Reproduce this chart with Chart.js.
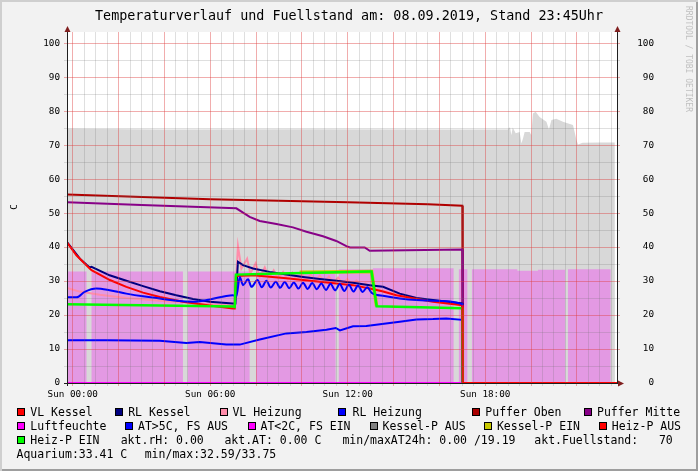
<!DOCTYPE html>
<html>
<head>
<meta charset="utf-8">
<script src="https://cdn.jsdelivr.net/npm/chart.js@4.4.1/dist/chart.umd.min.js"></script>
<style>
  body { margin: 0; }
  #wrap { position: relative; width: 698px; height: 471px; background: #f2f2f2; box-shadow: inset 2px 2px 0 #cfcfcf, inset -2px -2px 0 #9e9e9e; font-family: 'DejaVu Sans Mono', monospace; color: #000; overflow: hidden; }
  #chart { position: absolute; left: 0; top: 0; }
  #title { position: absolute; left: 0; top: 8px; width: 698px; text-align: center; font-size: 13.4px; line-height: 16px; white-space: pre; }
  #unit { position: absolute; left: 9px; top: 202px; width: 10px; height: 10px; line-height: 10px; text-align: center; font-size: 9.3px; transform: rotate(-90deg); }
  #mark { position: absolute; left: 684px; top: 6px; writing-mode: vertical-rl; font-size: 8px; color: #c0c0c0; white-space: pre; }
  .txt { position: absolute; white-space: pre; font-size: 11.5px; line-height: 14px; }
  .box { position: absolute; width: 6px; height: 6px; border: 1px solid #000; }
</style>
</head>
<body>
<div id="wrap">
  <canvas id="chart" width="698" height="471"></canvas>
  <div id="title">Temperaturverlauf und Fuellstand am: 08.09.2019, Stand 23:45Uhr</div>
  <div id="unit">C</div>
  <div id="mark">RRDTOOL / TOBI OETIKER</div>
  <div id="legend"></div>
</div>
<script>
// time axis in hours of Sunday 08.09.2019, values in C (Fuellstand in %)
const xLabelHours = [0, 6, 12, 18];
const xLabels = ['Sun 00:00', 'Sun 06:00', 'Sun 12:00', 'Sun 18:00'];

const fuellstand = [[-0.25,74.8],[4,74.6],[10,74.7],[16,74.6],[18.98,74.6],[19.08,75.3],[19.14,72.9],[19.2,75.2],[19.33,73.5],[19.5,73.9],[19.58,70.5],[19.65,72.0],[19.72,73.9],[19.94,73.9],[20.01,72.9],[20.08,79.3],[20.2,79.8],[20.37,78.3],[20.67,76.9],[20.78,74.6],[20.89,77.4],[21.1,77.8],[21.39,76.9],[21.83,75.9],[21.98,71.5],[22.05,70.2],[22.25,70.7],[23.0,70.8],[23.65,70.8],[23.66,0]];

// each value holds until the next time
const aquarium = [[-0.25,32.8],[0.6,0],[0.82,32.8],[4.81,0],[5.02,32.8],[7.72,0],[8.0,32.7],[11.47,0],[11.61,33.5],[13.1,33.8],[16.62,0],[16.85,33.5],[17.22,0],[17.42,33.5],[19.4,33.0],[20.3,33.3],[21.49,0],[21.61,33.5],[23.47,0],[23.75,0]];

const luftfeuchte = [[-0.25,0],[23.75,0]];

const aussen = [[-0.25,12.6],[1.5,12.6],[3.8,12.4],[4.96,11.8],[5.54,12.1],[6.7,11.3],[7.29,11.3],[8.16,12.8],[9.32,14.6],[10.2,15.0],[11.07,15.7],[11.48,16.2],[11.66,15.5],[12.23,16.7],[12.81,16.8],[14.27,18.0],[15.0,18.7],[15.72,18.8],[16.3,19.0],[17.0,18.6],[17.02,0]];

const pufferOben = [[-0.25,55.5],[6,54.1],[12,53.2],[15.5,52.6],[17.0,52.2],[17.02,0]];

const pufferMitte = [[-0.25,53.2],[3,52.4],[7.14,51.4],[7.72,48.9],[8.16,47.7],[8.89,46.8],[9.61,45.8],[10.2,44.5],[10.92,43.2],[11.5,41.8],[11.94,40.3],[12.1,39.9],[12.74,39.9],[12.96,38.9],[14.56,39.1],[17.0,39.3],[17.02,0]];

const vlHeizung = [[-0.25,28.0],[0.3,26.9],[1.18,26.0],[2.34,25.0],[3.8,24.2],[5.5,23.4],[7.05,22.7],[7.15,33.0],[7.21,40.3],[7.36,33.7],[7.61,36.6],[7.75,32.2],[7.98,35.2],[8.16,31.2],[8.38,34.0],[8.56,30.8],[8.77,33.2],[8.96,30.8],[9.18,32.7],[9.38,30.5],[9.58,32.5],[9.78,30.4],[9.98,32.3],[10.18,30.2],[10.38,32.0],[10.58,30.0],[10.78,31.6],[10.98,29.8],[11.18,31.3],[11.38,29.5],[11.58,31.0],[11.78,29.3],[11.98,30.6],[12.18,29.0],[12.38,30.2],[12.58,28.7],[12.78,29.4],[13.0,28.0],[13.5,27.2],[14.2,26.0],[15.0,25.0],[15.7,24.2],[17.0,23.0],[17.02,0]];

const kesselPEin = [[9.9,32.6],[13.04,32.8],[13.26,22.6]];

const rlKessel = [[-0.25,41.5],[0.31,36.6],[0.74,34.0],[0.82,34.2],[1.61,31.7],[2.34,30.1],[3.07,28.5],[3.8,27.0],[4.52,25.8],[5.25,24.7],[5.98,23.9],[6.98,23.4],[7.1,23.4],[7.21,35.7],[7.43,34.7],[7.87,33.7],[8.59,32.7],[9.32,31.9],[10.05,31.2],[10.78,30.6],[11.51,30.1],[12.23,29.5],[12.96,28.8],[13.54,28.3],[14.27,26.3],[15.0,25.0],[15.72,24.4],[17.0,23.4],[17.02,0]];

const vlKessel = [[-0.25,41.4],[0.16,37.6],[0.74,33.7],[0.82,33.2],[1.62,30.3],[2.34,28.3],[3.07,26.6],[3.8,25.3],[4.81,23.9],[5.98,22.8],[6.99,21.9],[7.07,21.9],[7.12,31.5],[7.87,31.7],[9.32,30.8],[10.78,29.8],[12.23,28.8],[12.96,27.8],[13.5,27.0],[14.12,25.8],[15.72,23.9],[17.0,22.9],[17.02,0]];

const rlHeizung = [[-0.25,25.2],[0.16,25.2],[0.52,26.8],[1.03,27.8],[1.61,27.3],[2.34,26.3],[3.07,25.5],[3.8,24.9],[4.52,24.2],[5.25,23.9],[5.98,24.6],[6.7,25.6],[6.99,25.8],[7.14,25.5],[7.29,31.2],[7.43,28.8],[7.65,30.5],[7.8,28.3],[8.06,30.3],[8.25,28.2],[8.45,30.1],[8.64,28.1],[8.86,29.8],[9.05,28.0],[9.25,29.7],[9.45,27.9],[9.65,29.6],[9.85,27.8],[10.05,29.5],[10.25,27.7],[10.45,29.4],[10.65,27.6],[10.85,29.3],[11.05,27.4],[11.25,29.2],[11.45,27.3],[11.65,29.1],[11.85,27.1],[12.05,28.9],[12.25,26.9],[12.45,28.7],[12.65,26.8],[12.85,28.2],[13.05,26.5],[13.6,25.6],[14.27,24.9],[15.0,24.4],[15.72,24.2],[17.0,23.2],[17.02,0]];

const heizPEin = [[-0.25,23.2],[7.0,22.5],[7.07,22.4],[7.12,31.9],[9.0,32.2],[12.98,32.8],[13.04,32.8],[13.26,22.6],[17.0,22.0],[17.02,0]];

// red pump line once everything is off
const heizPAus = [[17.0,22.9],[17.02,0],[23.75,0]];

const legendRows = [
  [[16.5, 30.3, '#ff0000', 'VL Kessel'], [115, 128.2, '#000080', 'RL Kessel'], [220.4, 232.4, '#ff8caa', 'VL Heizung'], [338.4, 352.6, '#0000ff', 'RL Heizung'], [472, 485.3, '#aa0000', 'Puffer Oben'], [583.7, 597, '#880088', 'Puffer Mitte']],
  [[16.5, 30.3, '#ff00ff', 'Luftfeuchte'], [125.1, 138, '#0000ff', 'AT>5C, FS AUS'], [247.6, 260.5, '#ff00ff', 'AT<2C, FS EIN'], [370, 382.5, '#808080', 'Kessel-P AUS'], [484, 496.9, '#c8c800', 'Kessel-P EIN'], [598.8, 611.8, '#ff0000', 'Heiz-P AUS']],
  [[16.5, 30.3, '#00ff00', 'Heiz-P EIN'], [null, 120.7, null, 'akt.rH: 0.00'], [null, 224.4, null, 'akt.AT: 0.00 C'], [null, 342.4, null, 'min/maxAT24h: 0.00 /19.19'], [null, 534.3, null, 'akt.Fuellstand:   70']],
  [[null, 16.5, null, 'Aquarium:33.41 C'], [null, 144.7, null, 'min/max:32.59/33.75']]
];
const rowCenters = [411.5, 425.5, 439.5, 453.7];

document.getElementById('legend').innerHTML = legendRows.map((row, r) => row.map(([bx, tx, col, text]) => {
  const y = rowCenters[r];
  const box = bx === null ? '' : `<div class="box" style="left:${bx}px;top:${y - 4}px;background:${col}"></div>`;
  return `${box}<div class="txt" style="left:${tx}px;top:${y - 7}px">${text.replace(/</g, '&lt;').replace(/>/g, '&gt;')}</div>`;
}).join('')).join('');

const toXY = (arr) => arr.map(([x, y]) => ({ x, y }));
const minorGrid = 'rgba(110,110,110,0.22)';
const majorGrid = 'rgba(222,60,60,0.42)';
const tickFont = { family: 'DejaVu Sans Mono', size: 9.3 };

const line = (label, data, color, width, extra = {}) => ({
  label, data: toXY(data), borderColor: color, borderWidth: width, pointRadius: 0, tension: 0, fill: false, ...extra
});

// listed bottom to top
const datasets = [
  line('Fuellstand', fuellstand, 'transparent', 0, { fill: 'origin', backgroundColor: '#d8d8d8' }),
  line('Aquarium', aquarium, 'transparent', 0, { fill: 'origin', backgroundColor: 'rgba(255,0,255,0.29)', stepped: 'before' }),
  line('AT', aussen, '#0000ff', 2),
  line('Puffer Oben', pufferOben, '#b00000', 2),
  line('Puffer Mitte', pufferMitte, '#880088', 2),
  line('VL Heizung', vlHeizung, '#ff8caa', 2),
  line('Kessel-P EIN', kesselPEin, '#c8c800', 3.5),
  line('RL Kessel', rlKessel, '#000080', 2),
  line('Luftfeuchte', luftfeuchte, '#ff00ff', 2),
  line('VL Kessel', vlKessel, '#ff0000', 2),
  line('RL Heizung', rlHeizung, '#0000ff', 2, { cubicInterpolationMode: 'monotone' }),
  line('Heiz-P EIN', heizPEin, '#00ff00', 2.5),
  line('Heiz-P AUS', heizPAus, '#ff0000', 2)
].map((d, i, all) => ({ ...d, order: all.length - i }));

const yTicks = (s) => {
  const t = [];
  for (let v = 0; v <= 100; v += 5) t.push({ value: v });
  s.ticks = t;
};

const frame = {
  id: 'frame',
  beforeDraw(chart) {
    const { ctx, chartArea: a } = chart;
    ctx.save();
    ctx.fillStyle = '#ffffff';
    ctx.fillRect(a.left, a.top, a.right - a.left, a.bottom - a.top);
    ctx.restore();
  },
  afterDraw(chart) {
    const { ctx, chartArea: a } = chart;
    ctx.save();
    ctx.fillStyle = '#1f1f1f';
    ctx.fillRect(a.left, a.top - 3, 1, a.bottom - a.top + 6);
    ctx.fillRect(a.right, a.top - 3, 1, a.bottom - a.top + 3);
    ctx.fillRect(a.left - 3, a.bottom, a.right - a.left + 5, 1);
    ctx.fillStyle = '#801f1f';
    const up = (x) => {
      ctx.beginPath();
      ctx.moveTo(x + 0.5, a.top - 6);
      ctx.lineTo(x + 3.5, a.top);
      ctx.lineTo(x - 2.5, a.top);
      ctx.closePath();
      ctx.fill();
    };
    up(a.left);
    up(a.right);
    ctx.beginPath();
    ctx.moveTo(a.right + 7, a.bottom + 0.5);
    ctx.lineTo(a.right + 1, a.bottom - 2.5);
    ctx.lineTo(a.right + 1, a.bottom + 3.5);
    ctx.closePath();
    ctx.fill();
    ctx.restore();
  }
};

new Chart(document.getElementById('chart'), {
  type: 'line',
  data: { datasets },
  plugins: [frame],
  options: {
    responsive: false,
    animation: false,
    devicePixelRatio: 1,
    layout: { padding: { top: 32, left: 0, right: 44, bottom: 0 } },
    plugins: { legend: { display: false }, tooltip: { enabled: false } },
    scales: {
      x: {
        type: 'linear', min: -0.25, max: 23.75,
        afterBuildTicks: (s) => {
          const t = [];
          for (let h = 0; h <= 23.5; h += 0.5) t.push({ value: h });
          s.ticks = t;
        },
        afterFit: (s) => { s.height = 88; },
        border: { display: false },
        grid: { z: 1, color: (c) => (c.tick && c.tick.value % 2 === 0 ? majorGrid : minorGrid), tickLength: 3 },
        ticks: {
          autoSkip: false, maxRotation: 0, minRotation: 0, padding: 3, color: '#000', font: tickFont,
          callback: (v) => { const i = xLabelHours.indexOf(v); return i >= 0 ? xLabels[i] : ''; }
        }
      },
      y: {
        type: 'linear', position: 'left', min: 0, max: 103.3,
        afterBuildTicks: yTicks,
        afterFit: (s) => { s.width = 67; },
        border: { display: false },
        grid: { z: 1, color: (c) => (c.tick && c.tick.value % 10 === 0 ? majorGrid : minorGrid), tickLength: 3 },
        ticks: { padding: 4, color: '#000', font: tickFont, callback: (v) => (v % 10 === 0 ? String(v) : '') }
      },
      y2: {
        type: 'linear', position: 'right', min: 0, max: 103.3,
        afterBuildTicks: yTicks,
        afterFit: (s) => { s.width = 37; },
        border: { display: false },
        grid: { z: 1, drawOnChartArea: false, color: (c) => (c.tick && c.tick.value % 10 === 0 ? majorGrid : minorGrid), tickLength: 3 },
        ticks: { crossAlign: 'far', padding: 4, color: '#000', font: tickFont, callback: (v) => (v % 10 === 0 ? String(v) : '') }
      }
    }
  }
});
</script>
</body>
</html>
